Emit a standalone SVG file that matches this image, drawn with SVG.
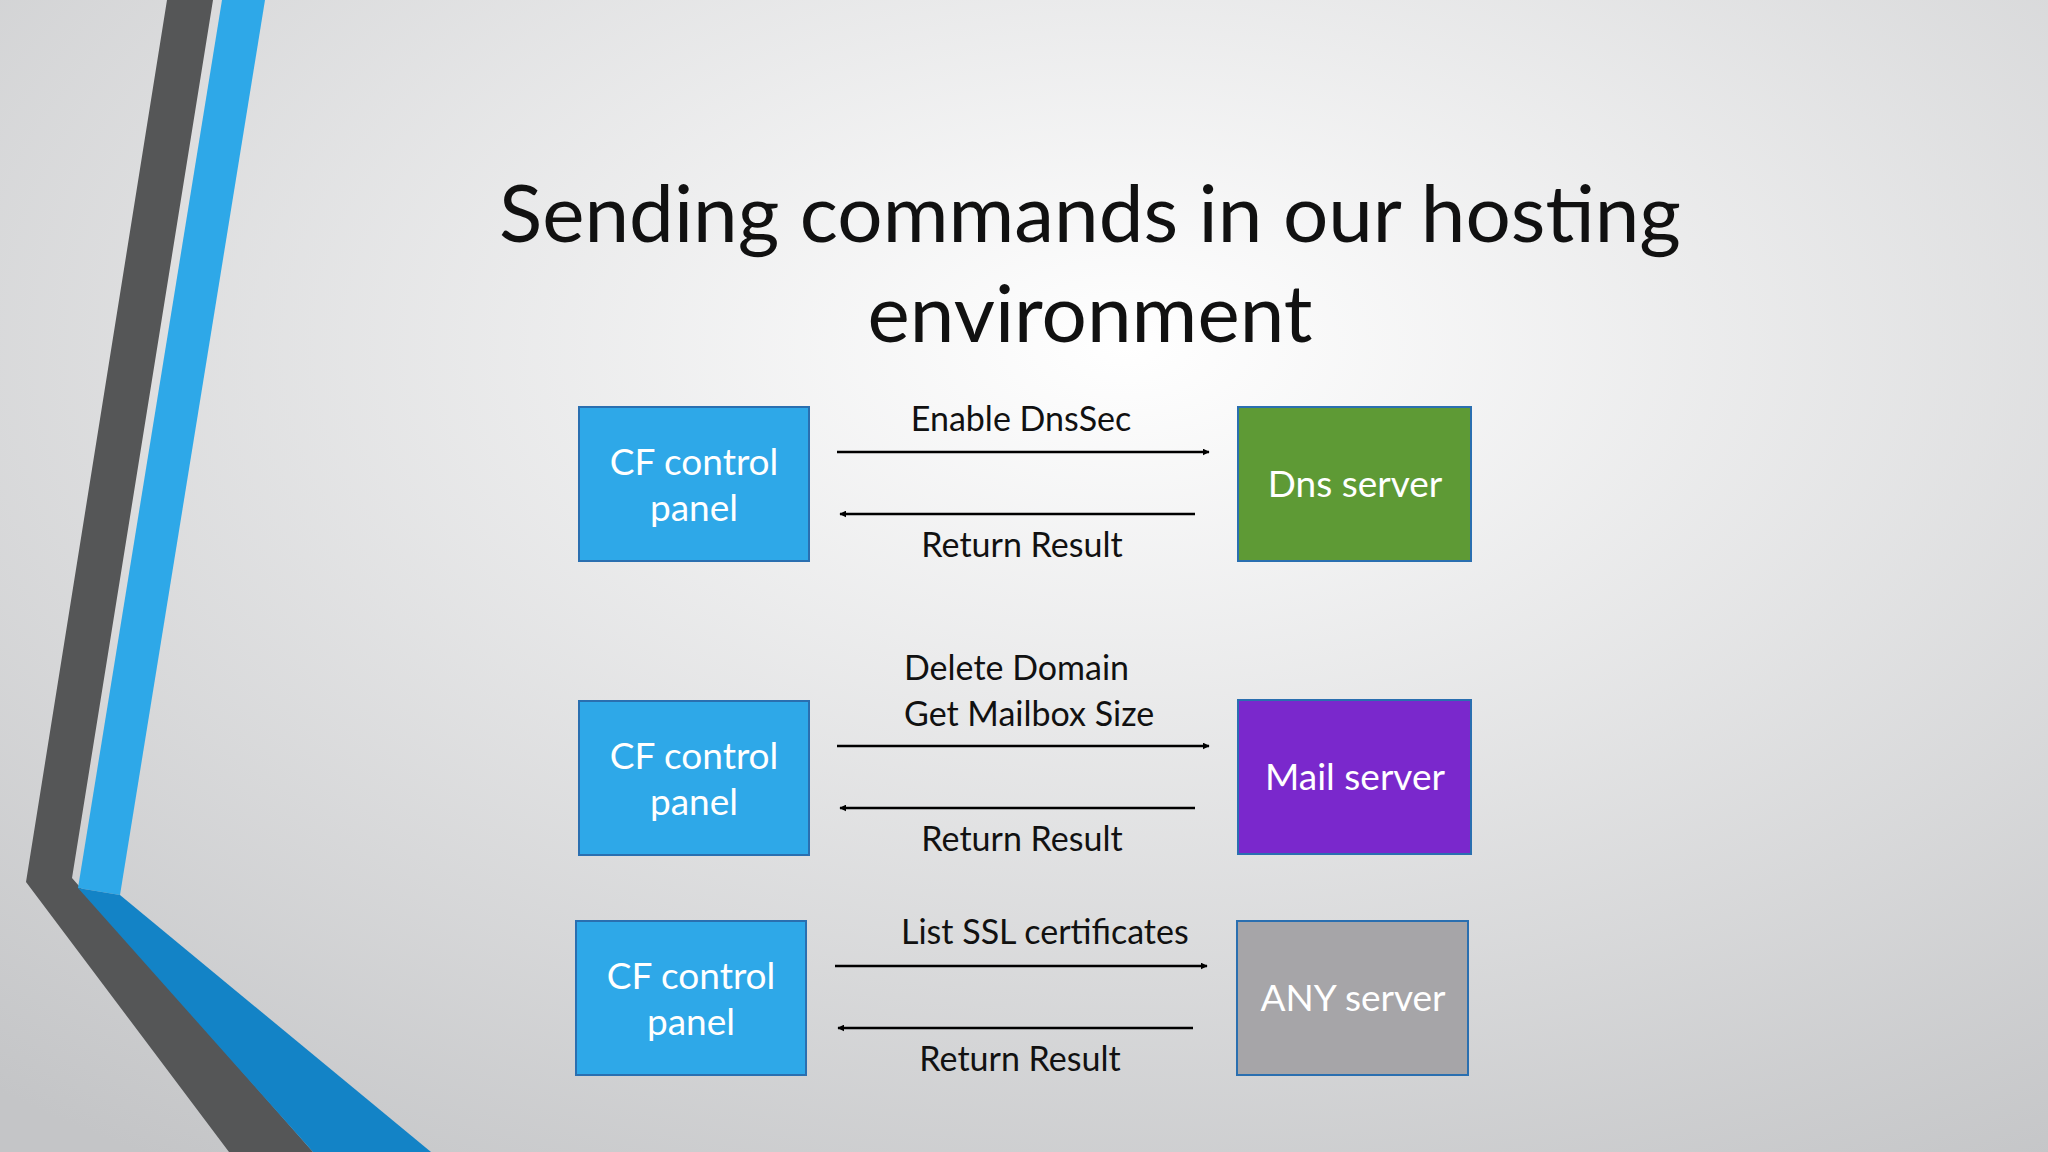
<svg xmlns="http://www.w3.org/2000/svg" width="2048" height="1152" viewBox="0 0 2048 1152">
<defs>
<radialGradient id="bg" cx="0.55" cy="0.3" r="0.85">
<stop offset="0" stop-color="#ffffff"/><stop offset="1" stop-color="#c4c5c7"/>
</radialGradient>
<marker id="ah" viewBox="0 0 10 10" refX="9" refY="5" markerWidth="7" markerHeight="7" orient="auto-start-reverse" markerUnits="userSpaceOnUse"><path d="M0,0 L10,5 L0,10 z" fill="#000"/></marker>
<style>
.box{stroke:#2a6fb0;stroke-width:2}
.bt{font-family:Lato,"Open Sans",sans-serif;font-size:37px;fill:#fff;text-anchor:middle}
.lb{font-family:Lato,"Open Sans",sans-serif;font-size:34px;fill:#111}
.ar{stroke:#000;stroke-width:2.5;fill:none}
</style>
</defs>
<rect width="2048" height="1152" fill="url(#bg)"/>
<polygon points="167,0 213,0 72,878 313,1152 229,1152 26,882" fill="#555657"/>
<polygon points="222,0 265,0 120,895 78,888" fill="#2EA8E8"/>
<polygon points="78,888 120,895 431,1152 313,1152" fill="#1383C6"/>
<text x="1090" y="242" font-family="Lato,'Open Sans',sans-serif" font-size="80" text-anchor="middle" fill="#111">Sending commands in our hosting</text>
<text x="1090" y="342" font-family="Lato,'Open Sans',sans-serif" font-size="80" text-anchor="middle" fill="#111">environment</text>
<g id="cf1"><rect class="box" x="579" y="407" width="230" height="154" fill="#2EA8E8"/><text class="bt" x="694" y="475">CF control</text><text class="bt" x="694" y="521">panel</text></g>
<g id="dns"><rect class="box" x="1238" y="407" width="233" height="154" fill="#5E9A35"/><text class="bt" x="1355" y="497">Dns server</text></g>
<g id="cf2"><rect class="box" x="579" y="701" width="230" height="154" fill="#2EA8E8"/><text class="bt" x="694" y="769">CF control</text><text class="bt" x="694" y="815">panel</text></g>
<g id="mail"><rect class="box" x="1238" y="700" width="233" height="154" fill="#7A28CC"/><text class="bt" x="1355" y="790">Mail server</text></g>
<g id="cf3"><rect class="box" x="576" y="921" width="230" height="154" fill="#2EA8E8"/><text class="bt" x="691" y="989">CF control</text><text class="bt" x="691" y="1035">panel</text></g>
<g id="any"><rect class="box" x="1237" y="921" width="231" height="154" fill="#A6A5A8"/><text class="bt" x="1353" y="1011">ANY server</text></g>
<g id="connectors">
<line class="ar" x1="837" y1="452" x2="1209" y2="452" marker-end="url(#ah)"/>
<line class="ar" x1="1195" y1="514" x2="840" y2="514" marker-end="url(#ah)"/>
<text class="lb" x="1021" y="431" text-anchor="middle">Enable DnsSec</text>
<text class="lb" x="1022" y="557" text-anchor="middle">Return Result</text>
<line class="ar" x1="837" y1="746" x2="1209" y2="746" marker-end="url(#ah)"/>
<line class="ar" x1="1195" y1="808" x2="840" y2="808" marker-end="url(#ah)"/>
<text class="lb" x="904" y="680">Delete Domain</text>
<text class="lb" x="904" y="726">Get Mailbox Size</text>
<text class="lb" x="1022" y="851" text-anchor="middle">Return Result</text>
<line class="ar" x1="835" y1="966" x2="1207" y2="966" marker-end="url(#ah)"/>
<line class="ar" x1="1193" y1="1028" x2="838" y2="1028" marker-end="url(#ah)"/>
<text class="lb" x="901" y="944">List SSL certificates</text>
<text class="lb" x="1020" y="1071" text-anchor="middle">Return Result</text>
</g>
</svg>
